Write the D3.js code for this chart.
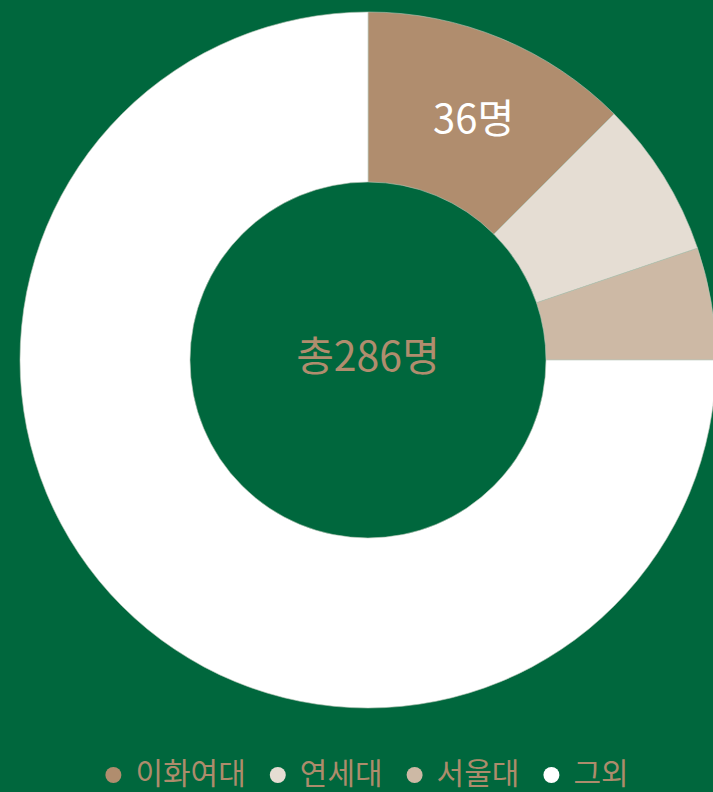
<!DOCTYPE html>
<html lang="ko">
<head>
<meta charset="utf-8">
<script src="https://cdn.jsdelivr.net/npm/d3@7"></script>
<style>
  html, body { margin: 0; padding: 0; background: #00673d; overflow: hidden; }
  #chart { width: 713px; height: 792px; }
  text { font-family: "Noto Sans CJK KR", "Noto Sans", sans-serif; }
</style>
</head>
<body>
<div id="chart"></div>
<script>
// 학교별 인원
const schools = ['이화여대', '연세대', '서울대', '그외'];
const counts = [36, 21, 15, 216];
const colors = ['#b08d6e', '#e5ddd3', '#cdb9a5', '#ffffff'];
const totalLabel = '총286명';

function drawDonut() {
  const W = 713, H = 792;
  const cx = 368, cy = 360;
  const outerR = 348, innerR = 178;

  const svg = d3.select('#chart').append('svg')
    .attr('width', W).attr('height', H);
  const g = svg.append('g').attr('transform', `translate(${cx},${cy})`);

  const data = schools.map((s, i) => ({ name: s, value: counts[i], color: colors[i] }));
  const pie = d3.pie().value(d => d.value).sort(null);
  const arc = d3.arc().innerRadius(innerR).outerRadius(outerR);
  const arcs = pie(data);

  // Slices
  g.selectAll('.slice').data(arcs).join('path')
    .attr('class', 'slice')
    .attr('d', arc)
    .attr('fill', d => d.data.color)
    .attr('stroke', '#b9c7b8').attr('stroke-width', 0.6);

  // Label on first slice only
  g.selectAll('.lbl').data(arcs.filter((d, i) => i === 0)).join('text')
    .attr('class', 'lbl')
    .attr('x', d => arc.centroid(d)[0] + 5)
    .attr('y', d => arc.centroid(d)[1] + 5)
    .attr('text-anchor', 'middle').attr('dominant-baseline', 'middle')
    .attr('fill', '#fff').attr('font-size', '40px')
    .text(d => d.data.value + '명');

  // Center total
  g.append('text')
    .attr('x', 0).attr('y', 0)
    .attr('text-anchor', 'middle').attr('dominant-baseline', 'middle')
    .attr('fill', '#b08d6e').attr('font-size', '41px')
    .text(totalLabel);

  // Legend
  const legend = svg.append('g');
  const ly = 775;
  const gap = 24, textOff = 30;
  let xPos = 0;
  const items = legend.selectAll('.item').data(data).join('g').attr('class', 'item');
  items.each(function(d) {
    const it = d3.select(this);
    it.append('circle').attr('cx', 8).attr('cy', 0).attr('r', 8).attr('fill', d.color);
    const t = it.append('text')
      .attr('x', textOff).attr('y', 1)
      .attr('dominant-baseline', 'middle')
      .attr('fill', '#ad8c6c').attr('font-size', '30px')
      .text(d.name);
    const tw = t.node().getComputedTextLength();
    it.attr('transform', `translate(${xPos},${ly})`);
    xPos += textOff + tw + gap;
  });
  const totalW = xPos - gap;
  legend.attr('transform', `translate(${cx - 1 - totalW / 2},0)`);
}

drawDonut();
</script>
</body>
</html>
